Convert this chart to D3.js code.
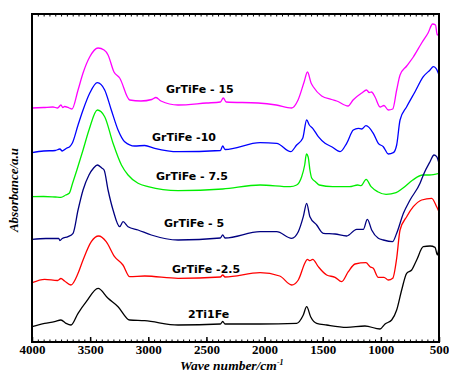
<!DOCTYPE html>
<meta charset="utf-8">
<style>
body { margin: 0; background: #fff; }
.line { fill: none; stroke-width: 1.3px; stroke-linejoin: round; }
.lbl { font-family: "DejaVu Sans", Verdana, sans-serif; font-weight: bold; font-size: 11px; }
.tick text { font-family: "Liberation Serif", "Times New Roman", serif; font-weight: bold; font-size: 13px; }
.ttl { font-family: "Liberation Serif", "Times New Roman", serif; font-weight: bold; font-style: italic; font-size: 13px; }
</style>
<svg width="449" height="374"></svg>
<script src="https://cdn.jsdelivr.net/npm/d3@7"></script>
<script>
// spectra: [wave number, absorbance (a.u.)]
var gr15 = [[4000,234],[3900,234.5],[3820,235],[3780,234],[3751,237],[3735,234.5],[3720,235.5],[3680,234],[3656,233],[3604,252],[3561,269],[3504,285],[3432,294],[3380,292],[3346,287],[3295,270],[3246,264],[3160,242],[3063,241],[2970,242.5],[2934,244.5],[2891,241],[2744,237],[2500,239],[2380,240],[2355,244],[2330,240],[2056,239],[1900,237],[1767,234],[1712,242],[1660,260],[1631,270],[1600,259],[1580,255],[1509,246],[1423,242.5],[1380,241],[1282,236],[1239,242],[1165,249],[1123,252],[1100,249.5],[1080,250],[1050,245],[1007,235],[973,236.5],[936,232],[898,233],[864,252],[835,267],[778,276],[721,285],[649,299],[594,309],[555,318],[530,317],[515,307],[500,309]];
var gr10 = [[4000,189.3],[3900,191],[3800,191.5],[3760,193],[3740,191],[3700,194],[3676,195.3],[3653,199],[3604,217],[3561,232],[3504,248.7],[3438,259.3],[3375,252],[3318,232],[3260,212],[3203,200.3],[3117,196],[3031,196.5],[2945,193.7],[2744,190.3],[2380,191.5],[2360,196],[2340,192.5],[2039,199.3],[1896,198.7],[1775,190.3],[1724,197],[1672,203.7],[1638,222],[1615,217],[1586,213.7],[1538,205.3],[1480,198.7],[1423,195.3],[1351,190.3],[1294,198.7],[1237,212],[1194,213.7],[1165,213],[1128,216.3],[1065,208.7],[1022,198.7],[979,195.3],[936,188],[893,189.3],[864,197],[835,222],[778,235.3],[706,250.3],[635,265.3],[577,272],[549,275.3],[526,273.7],[500,267]];
var gr75 = [[4000,145.3],[3900,145.5],[3800,145],[3751,144.7],[3710,147],[3680,148.7],[3651,158.7],[3614,172],[3561,192],[3510,212],[3438,232],[3375,225.3],[3303,198.7],[3231,177],[3174,167],[3088,158.7],[3002,155.3],[2744,151.3],[2360,153],[2039,157],[1780,155.3],[1724,157],[1681,165.3],[1655,177],[1640,188],[1625,185],[1610,172],[1595,164],[1560,160],[1530,157],[1414,155.3],[1270,155.3],[1199,157],[1170,156.3],[1127,162.7],[1084,155.3],[1027,150.3],[955,147.7],[869,149.3],[812,153.7],[726,162],[640,167],[583,167],[500,168.7]];
var gr5 = [[4000,102.7],[3880,103.5],[3770,103.7],[3760,101.5],[3740,103.5],[3690,105.3],[3647,108.7],[3604,132],[3561,152],[3510,167],[3470,174],[3438,177],[3400,174],[3380,172],[3346,152],[3303,132],[3246,115.3],[3217,120.3],[3174,115.3],[3088,112],[2974,107],[2744,102],[2380,104],[2360,107],[2340,104],[2039,110.3],[1896,110.3],[1767,103.7],[1710,110.3],[1667,125.3],[1638,138.7],[1610,125.3],[1552,117],[1495,108.7],[1394,108],[1294,106],[1208,112.7],[1151,112.7],[1116,122.7],[1079,112],[1022,103.7],[979,102],[900,100.3],[864,108.7],[806,128.7],[749,142],[663,158.7],[635,167],[577,180.3],[543,187],[520,185.3],[500,178.7]];
var gr25 = [[4000,59.3],[3891,62.7],[3780,61.5],[3751,63.5],[3720,61],[3665,57],[3604,68.7],[3561,82],[3490,100.3],[3427,106],[3362,100.3],[3290,85.3],[3218,77],[3160,65.3],[3031,66],[2744,63.7],[2380,65],[2360,67],[2340,65],[2039,69.3],[1870,66],[1767,57],[1710,62],[1652,79.3],[1633,82.7],[1610,81.3],[1586,82.7],[1538,75.3],[1466,67],[1394,64.7],[1337,60.3],[1280,70.3],[1222,78],[1128,79.3],[1093,75.3],[1065,73.7],[1022,64.7],[973,64.7],[936,62],[898,63.7],[864,83.7],[835,112],[778,125.3],[721,135.3],[649,142],[563,143.7],[520,135.3],[500,130.3]];
var ti = [[4000,15.3],[3891,18.7],[3806,20.3],[3751,22],[3708,18.7],[3665,17],[3604,28.7],[3533,40.3],[3432,53.7],[3346,43.7],[3260,35.3],[3160,22],[3031,21.3],[2744,17],[2380,18],[2360,20.5],[2340,18],[2039,18],[1724,18.7],[1667,27],[1638,35.3],[1604,25.3],[1552,18.7],[1466,17],[1294,14.7],[1137,16],[1007,13],[964,18],[907,22],[864,32],[821,52],[778,68.7],[735,72],[692,82],[635,95.3],[577,96],[534,94.7],[514,87],[500,95.3]];

var seriesNames = ["GrTiFe - 15", "GrTiFe -10", "GrTiFe - 7.5", "GrTiFe - 5", "GrTiFe -2.5", "2Ti1Fe"];
var seriesData = [gr15, gr10, gr75, gr5, gr25, ti];
var seriesColors = ["#ff00ff", "#0000ff", "#00ee00", "#000080", "#ff0000", "#000000"];
var xTicks = [4000, 3500, 3000, 2500, 2000, 1500, 1000, 500];

var svg = d3.select("svg"),
    margin = {top: 14, right: 10, bottom: 32, left: 32},
    width = 449 - margin.left - margin.right,
    height = 374 - margin.top - margin.bottom;

var x = d3.scaleLinear().domain([4000, 500]).range([0, width]);
var y = d3.scaleLinear().domain([0, height]).range([height, 0]);

var g = svg.append("g")
    .attr("transform", "translate(" + margin.left + "," + margin.top + ")");

g.append("clipPath").attr("id", "clip")
    .append("rect").attr("width", width).attr("height", height);

var line = d3.line()
    .curve(d3.curveMonotoneX)
    .x(function(d) { return x(d[0]); })
    .y(function(d) { return y(d[1]); });

g.selectAll(".line")
    .data(seriesData)
  .enter().append("path")
    .attr("class", "line")
    .attr("clip-path", "url(#clip)")
    .attr("stroke", function(d, i) { return seriesColors[i]; })
    .attr("d", line);

// minor ticks, bottom and top
var minor = d3.range(4000, 499, -50);
g.append("g")
    .attr("transform", "translate(0," + height + ")")
    .call(d3.axisBottom(x).tickValues(minor).tickSize(-2.5).tickFormat(""))
    .call(function(a) { a.select(".domain").remove(); });
g.append("g")
    .call(d3.axisTop(x).tickValues(minor).tickSize(-2.5).tickFormat(""))
    .call(function(a) { a.select(".domain").remove(); });

g.append("g")
    .attr("transform", "translate(0," + height + ")")
    .call(d3.axisBottom(x).tickValues(xTicks).tickSizeInner(-5).tickSizeOuter(0).tickPadding(3).tickFormat(d3.format("d")))
    .call(function(a) { a.select(".domain").remove(); a.selectAll("line").attr("stroke-width", 1.5); });

// frame
g.append("rect")
    .attr("width", width).attr("height", height)
    .attr("fill", "none").attr("stroke", "#000").attr("stroke-width", 2);

// series labels, anchored at [wave number, absorbance]
var lblPos = [[2848, 249], [2968, 201], [2934, 162], [2865, 115], [2796, 69], [2658, 24]];
g.selectAll(".lbl")
    .data(seriesNames)
  .enter().append("text")
    .attr("class", "lbl")
    .attr("x", function(d, i) { return x(lblPos[i][0]); })
    .attr("y", function(d, i) { return y(lblPos[i][1]); })
    .text(function(d) { return d; });

// axis titles
var xt = svg.append("text")
    .attr("class", "ttl")
    .style("font-size", "13.5px")
    .attr("x", 180)
    .attr("y", 370);
xt.append("tspan").text("Wave number/cm");
xt.append("tspan").attr("dy", -5).style("font-size", "8px").text("-1");

svg.append("text")
    .attr("class", "ttl")
    .attr("transform", "translate(18,190) rotate(-90)")
    .attr("text-anchor", "middle")
    .text("Absorbance/a.u");
</script>
